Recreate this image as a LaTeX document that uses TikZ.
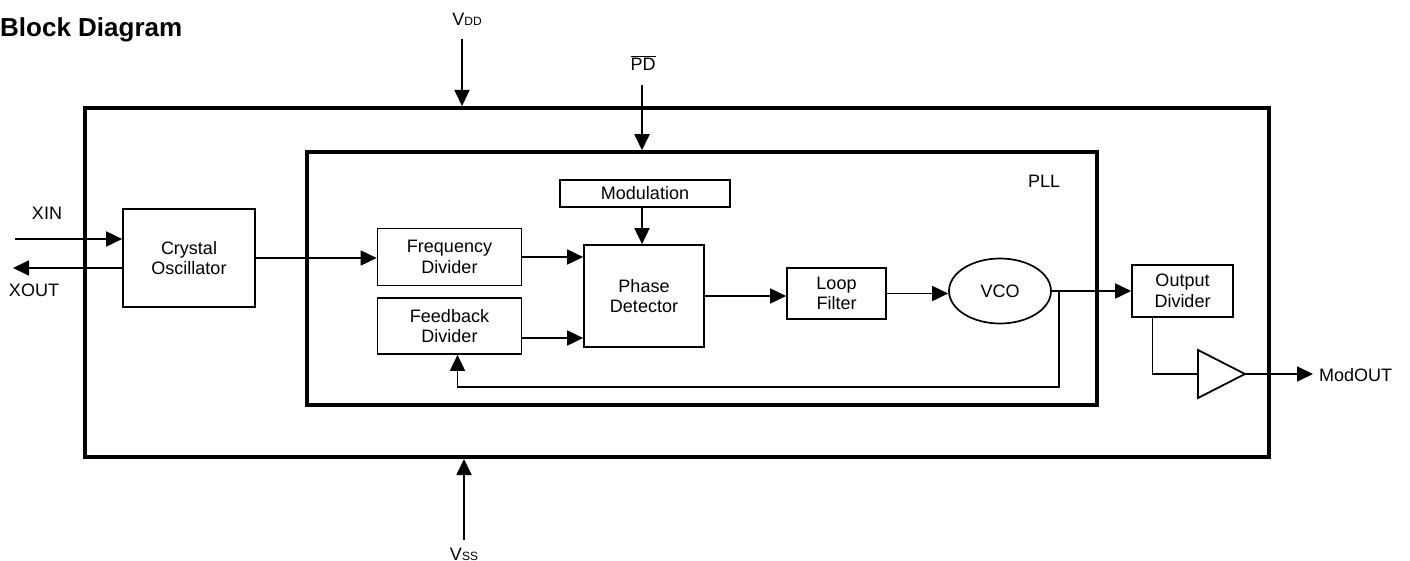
\documentclass[tikz,border=0pt]{standalone}
\usepackage{fontspec}
\setmainfont{Liberation Sans}
\usetikzlibrary{arrows.meta,shapes.geometric}
\newcommand\blocktext{\fontsize{18}{20.5}\selectfont}
\newcommand\subtext[1]{{\fontsize{12}{12}\selectfont #1}}
\newcommand\ovl[1]{$\overline{\hbox{#1}}$}

\begin{document}
\begin{tikzpicture}[x=1pt,y=-1pt,
    block/.style={draw,line width=1.7pt,align=center,inner sep=0pt,font=\blocktext},
    frame/.style={draw,inner sep=0pt},
    sig/.style={line width=1.8pt,-{Triangle[length=16pt,width=15pt]}},
    wire/.style={line width=1.8pt},
    lbl/.style={inner sep=0pt,font=\blocktext}]
  \useasboundingbox (0,0) rectangle (1410,561);
  \node[anchor=base west,inner sep=0pt,font=\fontsize{26}{30}\selectfont\bfseries] (title) at (0,37) {Block Diagram};
  \node[frame,line width=4pt,minimum width=1184,minimum height=349] (chip) at (677,282.5) {};
  \node[frame,line width=3.5pt,minimum width=790,minimum height=253] (pll) at (702,278.5) {};
  \node[block,minimum width=132,minimum height=98] (xtal) at (189,258) {Crystal\\Oscillator};
  \node[block,minimum width=144,minimum height=57] (fdiv) at (449.5,257) {Frequency\\Divider};
  \node[block,minimum width=144,minimum height=56] (fbdiv) at (449.5,326) {Feedback\\Divider};
  \node[block,minimum width=170,minimum height=27] (mod) at (645,193.5) {Modulation};
  \node[block,minimum width=120,minimum height=102] (pdet) at (644,296) {Phase\\Detector};
  \node[block,minimum width=99,minimum height=51] (lf) at (836.5,293.5) {Loop\\Filter};
  \node[block,ellipse,minimum width=102,minimum height=65] (vco) at (1000,291) {VCO};
  \node[block,minimum width=101,minimum height=52] (odiv) at (1182.5,291) {Output\\Divider};
  \node[lbl] (plllbl) at (1044,181) {PLL};
  \node[lbl] (xinlbl) at (47,213) {XIN};
  \node[lbl] (xoutlbl) at (34,290) {XOUT};
  \node[lbl,anchor=base] (vddlbl) at (467,26) {V\subtext{DD}};
  \node[lbl] (pdlbl) at (643,63) {\ovl{PD}};
  \node[lbl,anchor=base] (vsslbl) at (464,560) {V\subtext{SS}};
  \node[lbl,anchor=west] (modoutlbl) at (1319,375) {ModOUT};
  \coordinate (xin) at (15,239);
  \coordinate (xout) at (13,268);
  \coordinate (vdd) at (462,39);
  \coordinate (pdn) at (642,85);
  \coordinate (vss) at (464,540);
  \coordinate (tap) at (1059,291);
  \coordinate (fbret) at (1059,387);
  \coordinate (bufin) at (1198,374);
  \coordinate (bufout) at (1245,374);
  \coordinate (modout) at (1313,374);
  \draw[wire,line join=miter] ([yshift=24pt]bufin) -- (bufout) -- ([yshift=-24pt]bufin) -- cycle;
  \draw[sig] (xin) -- (xin -| xtal.west);
  \draw[sig] (xout -| xtal.west) -- (xout);
  \draw[sig] (xtal.east) -- (xtal.east -| fdiv.west);
  \draw[sig] (fdiv.east) -- (fdiv.east -| pdet.west);
  \draw[sig] ([yshift=-12pt]fbdiv.east) -- ([yshift=-12pt]fbdiv.east -| pdet.west);
  \draw[sig] ([xshift=-3pt]mod.south) -- ([xshift=-3pt]mod.south |- pdet.north);
  \draw[sig] (pdet.east) -- (pdet.east -| lf.west);
  \draw[sig] (lf.east) -- (lf.east -| vco.west);
  \draw[sig] (vco.east) -- (odiv.west);
  \draw[sig] (tap) -- (fbret) -| ([xshift=8pt]fbdiv.south);
  \draw[wire] ([xshift=-30pt]odiv.south) |- (bufin);
  \draw[sig] (bufout) -- (modout);
  \draw[sig] (vdd) -- (vdd |- chip.north);
  \draw[sig] (pdn) -- (pdn |- pll.north);
  \draw[sig] (vss) -- (vss |- chip.south);
\end{tikzpicture}
\end{document}
